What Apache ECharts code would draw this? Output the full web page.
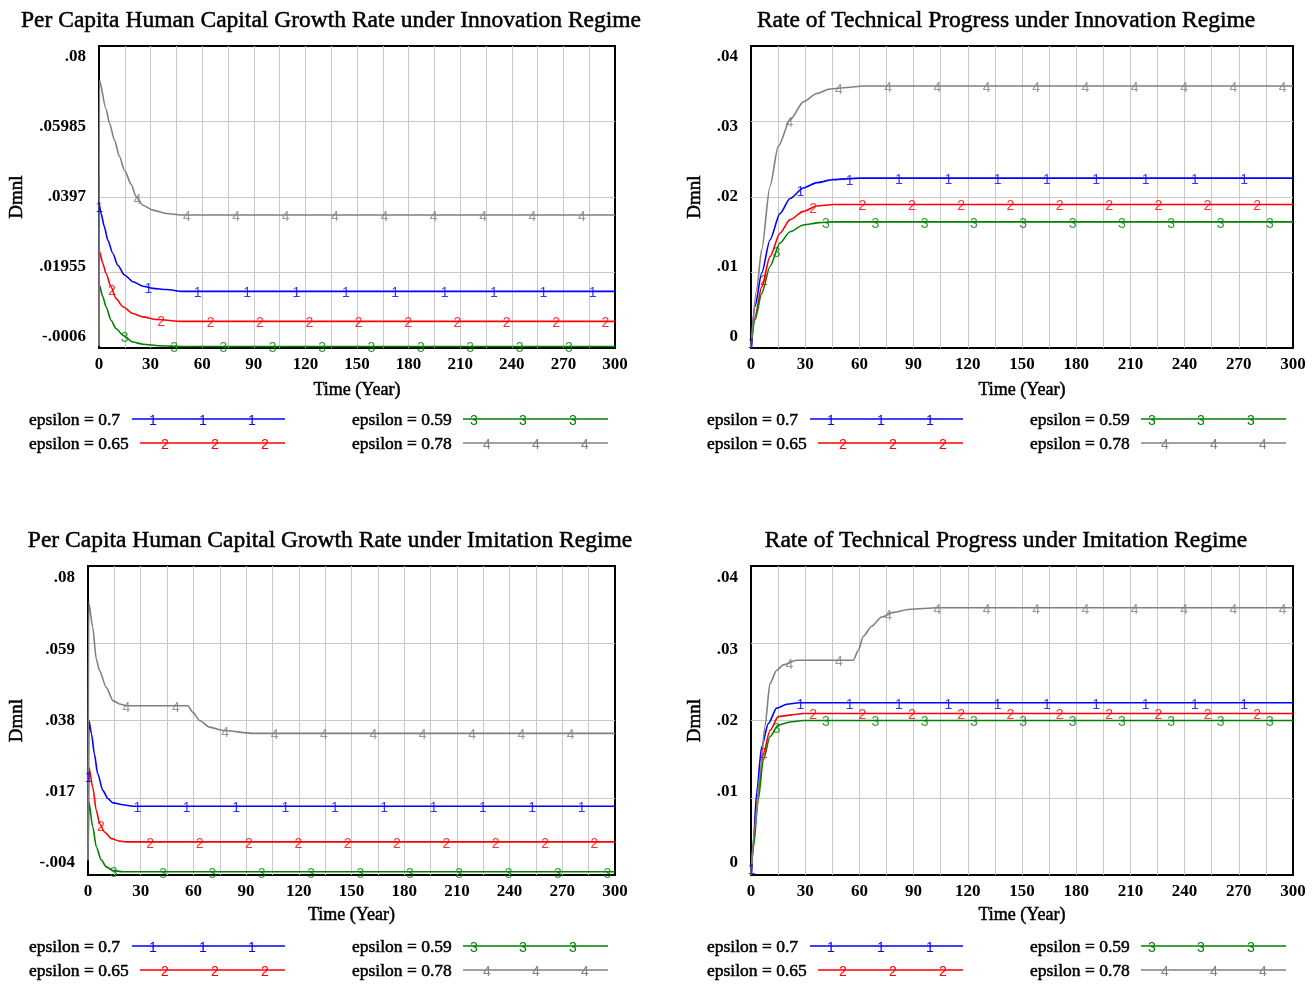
<!DOCTYPE html>
<html>
<head>
<meta charset="utf-8">
<title>Innovation vs Imitation Regime</title>
<script src="https://cdn.jsdelivr.net/npm/echarts@6/dist/echarts.min.js"></script>
<style>
  html, body { margin: 0; padding: 0; background: #fff; }
  #chart { width: 1313px; height: 984px; }
</style>
</head>
<body>
<div id="chart"></div>
<script>
// ---- Series names and colours ----
const seriesNames = ['epsilon = 0.7', 'epsilon = 0.65', 'epsilon = 0.59', 'epsilon = 0.78'];
const seriesDigits = ['1', '2', '3', '4'];
const seriesColors = ['#0000ff', '#ff0000', '#008000', '#808080'];

// ---- Y tick labels (bottom to top) ----
const innovHumanTicks = ['-.0006', '.01955', '.0397', '.05985', '.08'];
const innovTechTicks = ['0', '.01', '.02', '.03', '.04'];
const imitHumanTicks = ['-.004', '.017', '.038', '.059', '.08'];
const imitTechTicks = ['0', '.01', '.02', '.03', '.04'];

// ---- Time axis ----
const timeMax = 300;
const timeLabelStep = 30;

// ---- Innovation regime: per capita human capital growth rate [year, value] ----
const innovHumanEps070 = [[0,0],[0.2,0.0375],[1.2,0.0353],[3.1,0.0318],[5.1,0.0282],[8,0.0247],[10.9,0.0215],[14.8,0.0189],[19.7,0.0171],[25.5,0.0159],[31.3,0.0153],[39.1,0.0150],[48.8,0.0145],[300,0.0145]];
const innovHumanEps065 = [[0,0],[0.2,0.0253],[2.2,0.0220],[4.1,0.0193],[7,0.0157],[9.9,0.0126],[13.9,0.0104],[19.7,0.0086],[25.5,0.0077],[33.2,0.0070],[48.8,0.0065],[300,0.0065]];
const innovHumanEps059 = [[0,0],[0.2,0.0162],[2.2,0.0131],[4.1,0.0104],[7,0.0068],[9.9,0.0046],[13.9,0.0028],[19.7,0.0010],[25.5,0.0004],[35.2,0.0000],[48.8,-0.0002],[300,-0.0002]];
const innovHumanEps078 = [[0,0],[0.2,0.0709],[4.1,0.0632],[6.1,0.0594],[9,0.0549],[11.9,0.0505],[14.8,0.0469],[18.7,0.0431],[21.6,0.0398],[25.5,0.0375],[31.3,0.0362],[39.1,0.0353],[47.8,0.0349],[300,0.0349]];

// ---- Innovation regime: rate of technical progress ----
const innovTechEps070 = [[0,0],[2.2,0.0055],[5.9,0.0099],[10.5,0.0143],[16,0.0178],[21.6,0.0198],[29,0.0212],[36.4,0.0219],[45.5,0.0223],[60,0.0225],[300,0.0225]];
const innovTechEps065 = [[0,0],[2.2,0.0041],[5.9,0.0081],[10.5,0.0121],[16,0.0152],[21.6,0.0170],[29,0.0181],[36.4,0.0188],[45.5,0.0190],[300,0.0190]];
const innovTechEps059 = [[0,0],[2.2,0.0037],[5.9,0.0072],[10.5,0.0108],[16,0.0139],[21.6,0.0154],[29,0.0163],[38,0.0166],[45.5,0.0167],[300,0.0167]];
const innovTechEps078 = [[0,0],[3.1,0.0077],[5.9,0.0130],[10.5,0.0214],[15.1,0.0267],[21.6,0.0302],[29,0.0326],[36.4,0.0337],[43.7,0.0343],[53,0.0345],[62,0.0347],[300,0.0347]];

// ---- Imitation regime: per capita human capital growth rate ----
const imitHumanEps070 = [[0,0],[0.5,0.0380],[2,0.0344],[3.6,0.0290],[5.5,0.0236],[8.4,0.0190],[11.3,0.0168],[14.2,0.0156],[19.9,0.0151],[25.5,0.0147],[300,0.0147]];
const imitHumanEps065 = [[0,0],[0.5,0.0252],[2.7,0.0199],[4.7,0.0136],[6.6,0.0100],[9.4,0.0077],[13.3,0.0059],[18,0.0052],[21.7,0.0050],[300,0.0050]];
const imitHumanEps059 = [[0,0],[0.5,0.0159],[2.7,0.0091],[4.7,0.0037],[7.5,0.0001],[10.4,-0.0018],[14.2,-0.0028],[19.9,-0.0031],[300,-0.0031]];
const imitHumanEps078 = [[0,0],[0.4,0.0701],[2.7,0.0633],[4.7,0.0547],[6.6,0.0515],[10.4,0.0470],[14.2,0.0434],[18,0.0425],[21.7,0.0420],[56.9,0.0420],[59.7,0.0402],[63.5,0.0380],[69.2,0.0362],[76.8,0.0353],[94,0.0345],[300,0.0345]];

// ---- Imitation regime: rate of technical progress ----
const imitTechEps070 = [[0,0],[1.3,0.0041],[3.1,0.0106],[5.9,0.0166],[9.6,0.0196],[14.2,0.0216],[19.8,0.0221],[26.5,0.0223],[300,0.0223]];
const imitTechEps065 = [[0,0],[1.3,0.0041],[4,0.0106],[6.8,0.0157],[10.5,0.0187],[15.1,0.0205],[21.6,0.0207],[29,0.0209],[300,0.0209]];
const imitTechEps059 = [[0,0],[1.3,0.0035],[4,0.0097],[6.8,0.0149],[10.5,0.0179],[15.1,0.0194],[21.6,0.0198],[29,0.0200],[300,0.0200]];
const imitTechEps078 = [[0,0],[2.2,0.0062],[5,0.0131],[7.7,0.0192],[10.5,0.0248],[14.2,0.0265],[17.9,0.0272],[25.3,0.0278],[56.6,0.0278],[59.4,0.0291],[62.2,0.0309],[66.8,0.0322],[72.3,0.0334],[78.8,0.0340],[88,0.0344],[102.8,0.0346],[300,0.0346]];

// ---- Panel layout ----
const SERIF = "'Liberation Serif', 'Times New Roman', serif";
const SANS = "'Liberation Sans', Arial, sans-serif";

const panels = [
  { title: 'Per Capita Human Capital Growth Rate under Innovation Regime',
    data: [innovHumanEps070, innovHumanEps065, innovHumanEps059, innovHumanEps078],
    ticks: innovHumanTicks,
    plot: { left: 99, top: 46, width: 516, height: 302 }, labelInset: 11,
    titleX: 326, titleY: 4, nameGapY: 72, nameGapX: 33, markStep: 28.7, dx: 0, dy: 0 },
  { title: 'Rate of Technical Progress under Innovation Regime',
    data: [innovTechEps070, innovTechEps065, innovTechEps059, innovTechEps078],
    ticks: innovTechTicks,
    plot: { left: 751, top: 46, width: 542, height: 302 }, labelInset: 11,
    titleX: 1001, titleY: 4, nameGapY: 46, nameGapX: 33, markStep: 27.3, dx: 678, dy: 0 },
  { title: 'Per Capita Human Capital Growth Rate under Imitation Regime',
    data: [imitHumanEps070, imitHumanEps065, imitHumanEps059, imitHumanEps078],
    ticks: imitHumanTicks,
    plot: { left: 88, top: 566, width: 527, height: 309 }, labelInset: 12,
    titleX: 325, titleY: 524, nameGapY: 61, nameGapX: 31, markStep: 28.1, dx: 0, dy: 527 },
  { title: 'Rate of Technical Progress under Imitation Regime',
    data: [imitTechEps070, imitTechEps065, imitTechEps059, imitTechEps078],
    ticks: imitTechTicks,
    plot: { left: 751, top: 566, width: 542, height: 309 }, labelInset: 12,
    titleX: 1001, titleY: 524, nameGapY: 46, nameGapX: 31, markStep: 27.3, dx: 678, dy: 527 }
];

// Legend layout (relative to the top-left panel; shifted by dx / dy per panel)
const legendRowsY = [420, 444, 420, 444];
const legendTextX = [29, 29, 352, 352];
const legendLineX = [[132, 285], [140, 285], [463, 608], [463, 608]];
const legendMarkX = [[153, 203, 252], [165, 215, 265], [474, 523, 573], [487, 536, 585]];

// Linear lookup along a series, used to sit the numbered glyphs on their lines
function valueAt(data, t) {
  if (t <= data[0][0]) return data[0][1];
  for (let i = 1; i < data.length; i++) {
    if (t <= data[i][0]) {
      const [t0, v0] = data[i - 1], [t1, v1] = data[i];
      return v0 + (v1 - v0) * (t - t0) / (t1 - t0);
    }
  }
  return data[data.length - 1][1];
}

const heavyText = { textBorderColor: '#000', textBorderWidth: 0.5 };
const grid = [], xAxis = [], yAxis = [], series = [], title = [], graphic = [];

panels.forEach((p, i) => {
  const ymin = parseFloat(p.ticks[0]);
  const ymax = parseFloat(p.ticks[p.ticks.length - 1]);
  const yint = (ymax - ymin) / (p.ticks.length - 1);
  const g = 2 * i, gl = 2 * i + 1;

  grid.push({ left: p.plot.left, top: p.plot.top, width: p.plot.width, height: p.plot.height,
              show: true, borderColor: '#000', borderWidth: 2, backgroundColor: 'transparent' });
  grid.push({ left: p.plot.left, top: p.plot.top + p.labelInset, width: p.plot.width,
              height: p.plot.height - 2 * p.labelInset, show: false });

  xAxis.push({
    gridIndex: g, type: 'value', min: 0, max: timeMax, interval: 15,
    axisLine: { show: false }, axisTick: { show: false },
    splitLine: { show: true, showMinLine: false, showMaxLine: false, lineStyle: { color: '#c8c8c8', width: 1 } },
    axisLabel: { formatter: v => (v % timeLabelStep === 0 ? String(v) : ''),
                 fontFamily: SERIF, fontWeight: 'bold', fontSize: 17, color: '#000', margin: 8 },
    name: 'Time (Year)', nameLocation: 'middle', nameGap: p.nameGapX,
    nameTextStyle: Object.assign({ fontFamily: SERIF, fontSize: 18, color: '#000' }, heavyText)
  });
  xAxis.push({ gridIndex: gl, type: 'value', min: 0, max: timeMax, show: false });

  yAxis.push({
    gridIndex: g, type: 'value', min: ymin, max: ymax, interval: yint,
    axisLine: { show: false }, axisTick: { show: false }, axisLabel: { show: false },
    splitLine: { show: true, showMinLine: false, showMaxLine: false, lineStyle: { color: '#c8c8c8', width: 1 } },
    name: 'Dmnl', nameLocation: 'middle', nameGap: p.nameGapY,
    nameTextStyle: Object.assign({ fontFamily: SERIF, fontSize: 19, color: '#000' }, heavyText)
  });
  yAxis.push({
    gridIndex: gl, type: 'category', data: p.ticks, boundaryGap: false,
    axisLine: { show: false }, axisTick: { show: false }, splitLine: { show: false },
    axisLabel: { interval: 0, fontFamily: SERIF, fontWeight: 'bold', fontSize: 17, color: '#000', margin: 13 }
  });

  title.push({ text: p.title, left: p.titleX, top: p.titleY, textAlign: 'center',
               textStyle: Object.assign({ fontFamily: SERIF, fontSize: 23.5, fontWeight: 'normal', color: '#000' }, heavyText) });

  p.data.forEach((d, k) => {
    series.push({
      name: seriesNames[k], type: 'line', xAxisIndex: g, yAxisIndex: g, data: d,
      showSymbol: false, symbol: 'none', animation: false, z: 3,
      smooth: 0.25, smoothMonotone: 'x',
      lineStyle: { color: seriesColors[k], width: 1.6 }, itemStyle: { color: seriesColors[k] }
    });
    // numbered glyphs along each line
    const marks = [];
    for (let t = k * 0.26 * p.markStep; t <= timeMax; t += p.markStep) {
      const tt = Math.max(t, 0.3);
      marks.push([tt, valueAt(d, tt)]);
    }
    series.push({
      name: seriesNames[k] + ' marks', type: 'scatter', xAxisIndex: g, yAxisIndex: g, data: marks,
      symbol: 'circle', symbolSize: 0.1, animation: false, z: 4, silent: true,
      itemStyle: { color: 'transparent' },
      label: { show: true, position: 'inside', offset: [0, 2], formatter: seriesDigits[k],
               fontFamily: SANS, fontSize: 14, color: seriesColors[k] }
    });
  });

  // legend block under the panel
  seriesNames.forEach((name, k) => {
    const y = legendRowsY[k] + p.dy;
    graphic.push({ type: 'text', x: legendTextX[k] + p.dx, y: y,
                   style: { text: name, font: '17.5px ' + SERIF, fill: '#000', stroke: '#000', lineWidth: 0.5,
                            verticalAlign: 'middle', align: 'left' } });
    graphic.push({ type: 'line', shape: { x1: legendLineX[k][0] + p.dx, y1: y - 1, x2: legendLineX[k][1] + p.dx, y2: y - 1 },
                   style: { stroke: seriesColors[k], lineWidth: 1.6 } });
    legendMarkX[k].forEach(mx => {
      graphic.push({ type: 'text', x: mx + p.dx, y: y + 1,
                     style: { text: seriesDigits[k], font: '14px ' + SANS, fill: seriesColors[k], align: 'center', verticalAlign: 'middle' } });
    });
  });
});

const chart = echarts.init(document.getElementById('chart'), null, { renderer: 'canvas' });
chart.setOption({
  backgroundColor: '#fff',
  animation: false,
  title, grid, xAxis, yAxis, series, graphic
});
</script>
</body>
</html>
